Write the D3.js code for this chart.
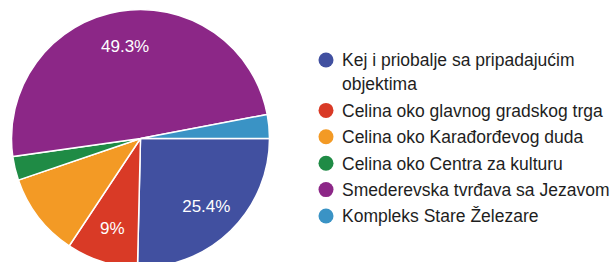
<!DOCTYPE html>
<html>
<head>
<meta charset="utf-8">
<script src="https://cdn.jsdelivr.net/npm/d3@7"></script>
<style>
  body { margin: 0; background: #fff; }
  svg { display: block; font-family: "Liberation Sans", Arial, sans-serif; }
</style>
</head>
<body>
<div id="chart"></div>
<script>
// responses per location (67 total)
var categories = [
    "Kej i priobalje sa pripadajućim objektima",
    "Celina oko glavnog gradskog trga",
    "Celina oko Karađorđevog duda",
    "Celina oko Centra za kulturu",
    "Smederevska tvrđava sa Jezavom",
    "Kompleks Stare Železare"
];
var legend_lines = [
    ["Kej i priobalje sa pripadajućim", "objektima"],
    ["Celina oko glavnog gradskog trga"],
    ["Celina oko Karađorđevog duda"],
    ["Celina oko Centra za kulturu"],
    ["Smederevska tvrđava sa Jezavom"],
    ["Kompleks Stare Železare"]
];
var counts = [17, 6, 7, 2, 33, 2];
var colors = ["#4150a0", "#d93a26", "#f39a25", "#1f8b45", "#8c2787", "#3a93c5"];
// slices that carry a percent label in the original
var labelled = [true, true, false, false, true, false];

var W = 610, H = 262;
var cx = 140.5, cy = 138.5, r = 129;

var svg = d3.select("#chart").append("svg")
    .attr("width", W)
    .attr("height", H);

var data = categories.map(function(c, i){
    return { name: c, value: counts[i], i: i };
});
var total = d3.sum(counts);

// starts at 3 o'clock, clockwise
var pie = d3.pie()
    .sort(null)
    .value(function(d){ return d.value; })
    .startAngle(Math.PI / 2)
    .endAngle(Math.PI / 2 + 2 * Math.PI);

var arc = d3.arc().innerRadius(0).outerRadius(r);
var labelArc = d3.arc().innerRadius(r * 0.73).outerRadius(r * 0.73);

var g = svg.append("g")
    .attr("transform", "translate(" + cx + "," + cy + ")");

var arcs = pie(data);

g.selectAll("path.slice")
    .data(arcs)
    .enter()
    .append("path")
    .classed("slice", true)
    .attr("d", arc)
    .attr("fill", function(d){ return colors[d.data.i]; })
    .attr("stroke", "#fff")
    .attr("stroke-width", 1.5);

var pct = function(v){
    return (Math.round(v / total * 1000) / 10) + "%";
};

g.selectAll("text.pct")
    .data(arcs.filter(function(d){ return labelled[d.data.i]; }))
    .enter()
    .append("text")
    .classed("pct", true)
    .attr("transform", function(d){
	var c = labelArc.centroid(d);
	return "translate(" + c[0] + "," + c[1] + ")";
    })
    .attr("text-anchor", "middle")
    .attr("dy", "0.36em")
    .attr("fill", "#fff")
    .style("font-size", "17px")
    .text(function(d){ return pct(d.data.value); });

// legend
var lx = 326, ly = 60, step = 26.4, wrapStep = 24;
var leg = svg.append("g").classed("legend", true);
var y = ly;
legend_lines.forEach(function(lines, i){
    var item = leg.append("g").attr("transform", "translate(" + lx + "," + y + ")");
    item.append("circle")
	.attr("r", 7.5)
	.attr("fill", colors[i]);
    lines.forEach(function(t, j){
	item.append("text")
	    .attr("x", 16)
	    .attr("y", j * wrapStep)
	    .attr("dy", "0.36em")
	    .attr("fill", "#1e1e1e")
	    .style("font-size", "17.5px")
	    .text(t);
    });
    y += step + (lines.length - 1) * wrapStep;
});
</script>
</body>
</html>
